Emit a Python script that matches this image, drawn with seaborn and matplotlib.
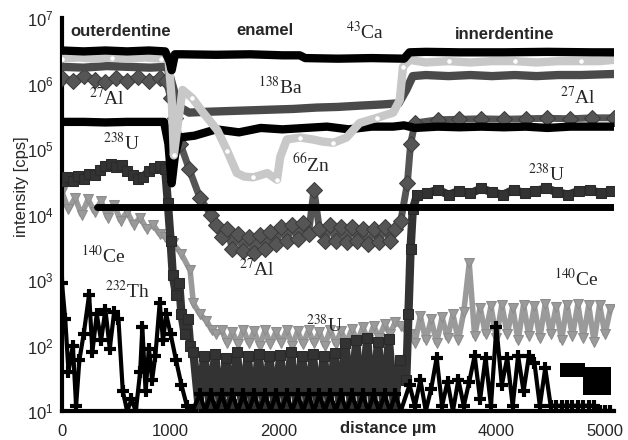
import numpy as np
import pandas as pd
import seaborn as sns
import matplotlib.pyplot as plt
from matplotlib.ticker import LogLocator, MultipleLocator, FixedLocator, FixedFormatter, NullFormatter

sns.set_style("white")
plt.rcParams["font.family"] = ["Liberation Sans", "DejaVu Sans"]
plt.rcParams["mathtext.fontset"] = "stix"

# ---------------- DATA (distance in um, intensity in cps) ----------------

# 43Ca
ca_x = [0, 200, 400, 600, 800, 950, 990, 1010, 1040, 1100, 1420, 1730, 2030, 2190, 2240,
        2540, 2850, 3150, 3200, 3350, 3660, 4070, 4470, 4880, 5080]
ca_y = [3.2e6, 3.1e6, 3.2e6, 3.1e6, 3.2e6, 3.1e6, 2.2e6, 1.6e6, 2.8e6, 2.8e6, 2.75e6, 2.8e6, 2.7e6, 2.7e6, 2.45e6,
        2.4e6, 2.45e6, 2.4e6, 3.0e6, 3.05e6, 3.0e6, 3.0e6, 3.05e6, 3.0e6, 3.0e6]

# 66Zn
zn_x = [0, 150, 300, 460, 610, 760, 910, 980, 1010, 1030, 1060, 1110, 1200, 1300, 1430, 1520, 1610,
        1680, 1760, 1830, 1890, 1980, 2010, 2070, 2190, 2310, 2400, 2500, 2620, 2740, 2900, 3050,
        3110, 3140, 3200, 3350, 3560, 3760, 3960, 4170, 4370, 4570, 4780, 4950, 5080]
zn_y = [2.4e6, 2.5e6, 2.4e6, 2.5e6, 2.4e6, 2.5e6, 2.4e6, 2.4e6, 6e5, 8e4, 2e5, 8e5, 6e5, 3.6e5, 1.95e5, 9.5e4, 4.3e4,
        3.8e4, 3.7e4, 4.0e4, 4.3e4, 3.4e4, 7.6e4, 1.4e5, 1.5e5, 1.4e5, 1.3e5, 1.25e5, 1.5e5, 2.5e5, 3.0e5, 3.6e5,
        5.6e5, 1.8e6, 2.3e6, 2.1e6, 2.2e6, 2.1e6, 2.2e6, 2.2e6, 2.1e6, 2.2e6, 2.2e6, 2.2e6, 2.3e6]

# 138Ba
ba_x = [0, 200, 410, 610, 810, 970, 1020, 1070, 1170, 1320, 1520, 1730, 1930, 2130, 2340,
        2540, 2740, 2950, 3100, 3170, 3230, 3350, 3560, 3760, 3960, 4170, 4370, 4570, 4780, 5080]
ba_y = [1.8e6, 1.75e6, 1.85e6, 1.8e6, 1.75e6, 1.8e6, 9e5, 4.5e5, 3.6e5, 3.7e5, 3.8e5, 3.9e5, 4.0e5, 4.1e5, 4.3e5,
        4.4e5, 4.6e5, 4.8e5, 5.0e5, 8e5, 1.3e6, 1.35e6, 1.3e6, 1.35e6, 1.3e6, 1.35e6, 1.3e6, 1.35e6, 1.35e6, 1.4e6]

# 27Al
al_x = [0, 100, 200, 300, 400, 500, 600, 700, 800, 900, 960, 1000, 1040, 1090, 1170, 1270, 1370] + \
       list(range(1420, 3121, 50)) + \
       [3180, 3210, 3250, 3460, 3660, 3860, 4070, 4270, 4470, 4680, 4880, 5080]
al_y = [1.2e6, 1.1e6, 1.3e6, 1.15e6, 1.05e6, 1.2e6, 1.1e6, 1.25e6, 1.1e6, 1.2e6, 1.1e6, 6e5, 3e5, 1.2e5,
        5e4, 1.8e4, 1.0e4,
        7e3, 4.5e3, 6e3, 3e3, 5e3, 2.8e3, 4.5e3, 2.6e3, 4.8e3, 3e3, 5.5e3, 3.5e3, 6.5e3, 4e3, 7e3,
        4.2e3, 7.5e3, 5e3, 2.4e4, 6e3, 4e3, 7e3, 4e3, 6.5e3, 3.8e3, 6.5e3, 4e3, 6e3, 3.5e3, 6e3,
        3.8e3, 6.5e3, 4e3, 6e3, 8e3,
        3e4, 1.2e5, 2.5e5, 2.8e5, 2.85e5, 2.9e5, 2.85e5, 2.9e5, 2.95e5, 2.9e5, 3.0e5, 3.0e5]

# unlabelled black trace (~2e5 cps)
bk_x = [0, 200, 400, 600, 800, 940, 980, 1010, 1040, 1080, 1220, 1420, 1630, 1830, 2030, 2240,
        2440, 2640, 2850, 3050, 3150, 3250, 3460, 3660, 3860, 4070, 4270, 4470, 4680, 4880, 5080]
bk_y = [2.6e5, 2.6e5, 2.55e5, 2.6e5, 2.6e5, 2.6e5, 1.2e5, 3e4, 8e4, 1.5e5, 1.6e5, 2.0e5, 1.8e5, 2.1e5, 2.0e5, 2.1e5,
        2.2e5, 2.0e5, 2.2e5, 2.2e5, 2.3e5, 2.1e5, 2.2e5, 2.15e5, 2.2e5, 2.15e5, 2.2e5, 2.1e5, 2.2e5, 2.2e5, 2.2e5]

# horizontal reference level
ref_x = [320, 5080]
ref_y = [1.3e4, 1.3e4]

# 238U
u_x = list(range(0, 951, 50)) + [975, 1000, 1020, 1050, 1080, 1100, 1130, 1160, 1180] + \
      list(range(1210, 3111, 50)) + [3170, 3190, 3210, 3230, 3270] + list(range(3360, 5061, 100))
u_y = [3.2e4, 3.8e4, 3.3e4, 3.9e4, 3.5e4, 4.2e4, 4.0e4, 4.8e4, 5.5e4, 6.0e4, 5.3e4, 5.8e4, 4.6e4, 4.0e4, 3.5e4,
       3.8e4, 4.6e4, 5.2e4, 5.6e4, 5.0e4,
       1.5e4, 4e3, 1.2e3, 600, 900, 300, 150, 250, 100,
       80, 11, 70, 12, 75, 10, 65, 13, 80, 11, 70, 10, 75, 12, 68, 11, 72, 10, 80, 12,
       70, 11, 75, 10, 70, 12, 78, 11, 110, 12, 120, 10, 130, 11, 115, 12, 125, 10, 60,
       30, 300, 3e3, 1.2e4, 2.0e4,
       2.1e4, 2.4e4, 2.0e4, 2.3e4, 2.1e4, 2.5e4, 2.2e4, 2.0e4, 2.4e4, 2.1e4, 2.3e4, 2.5e4,
       2.2e4, 2.0e4, 2.3e4, 2.4e4, 2.1e4, 2.3e4]

# 140Ce
ce_x = [0, 60, 120, 180, 240, 300, 360, 420, 480, 540, 600, 660, 720, 780, 840, 900, 950,
        1020, 1100, 1180, 1210, 1270, 1330, 1380] + list(range(1420, 3121, 50)) + list(range(3200, 5051, 50))
ce_y = [2.2e4, 1.2e4, 1.8e4, 1.0e4, 1.7e4, 1.1e4, 1.6e4, 9e3, 1.4e4, 8e3, 1.1e4, 7e3, 9e3, 6e3, 7e3, 5e3, 4.5e3,
        3.7e3, 2.5e3, 1.4e3, 440, 300, 240, 170,
        150, 170, 110, 160, 105, 175, 110, 165, 100, 170, 105, 160, 110, 175, 100, 165, 105, 170,
        110, 160, 100, 175, 105, 165, 110, 180, 115, 190, 120, 200, 130, 210, 150, 230, 200,
        150, 110, 280, 120, 250, 110, 270, 130, 300, 120, 330, 1800, 140, 380, 150, 400, 130, 420, 150,
        380, 120, 420, 140, 400, 130, 430, 150, 390, 120, 420, 140, 430, 130, 410, 115, 420, 150, 360]

# 232Th
th_x = [0, 30, 60, 100, 130, 160, 200, 250, 280, 320, 360, 400, 440, 480, 520, 560, 600, 640, 680,
        720, 740, 770, 800, 830, 860, 900, 930, 960, 1000, 1050, 1100, 1150, 1200] + \
       list(range(1270, 3121, 50)) + list(range(3200, 5051, 50))
th_y = [900, 250, 40, 100, 12, 60, 150, 600, 80, 300, 120, 350, 90, 320, 250, 20, 10, 15, 10,
        40, 190, 20, 90, 30, 70, 450, 120, 300, 150, 60, 25, 12, 10,
        18, 10, 18, 10, 18, 10, 18, 10, 18, 10, 18, 10, 18, 10, 18, 10, 18, 10, 18,
        10, 18, 10, 18, 10, 18, 10, 18, 10, 18, 10, 18, 10, 18, 10, 18, 10, 18, 10,
        25, 12, 30, 10, 22, 65, 12, 28, 10, 30, 12, 28, 70, 15, 65, 12, 190, 25, 65, 12,
        70, 20, 70, 55, 12, 45, 12, 12, 12, 12, 12, 12, 12, 12, 12, 10, 10, 10]

# two dark blocks at the right end
blk1_x = [4650, 4750]
blk1_y = [43, 43]
blk2_x = [4930]
blk2_y = [29]

# isotope labels: (x, y, mass, element)
iso_labels = [
    (2790, 6.2e6, "43", "Ca"),
    (2010, 8.9e5, "138", "Ba"),
    (415, 6.0e5, "27", "Al"),
    (552, 1.23e5, "238", "U"),
    (2290, 5.8e4, "66", "Zn"),
    (4750, 6.2e5, "27", "Al"),
    (4465, 4.2e4, "238", "U"),
    (377, 2.4e3, "140", "Ce"),
    (600, 680, "232", "Th"),
    (1795, 1.45e3, "27", "Al"),
    (2420, 205, "238", "U"),
    (4740, 1.07e3, "140", "Ce"),
]

# ---------------- PLOT ----------------

fig = plt.figure(figsize=(6.28, 4.4), dpi=100)
ax = fig.add_axes([0.0987, 0.0659, 0.879, 0.893])
ax.set_yscale("log")

common = dict(ax=ax, estimator=None, sort=False, legend=False)

sns.lineplot(x=ce_x, y=ce_y, color="#9a9a9a", lw=4, marker="v", markersize=7,
             markerfacecolor="#9a9a9a", markeredgecolor="#8c8c8c", zorder=2, **common)
sns.lineplot(x=u_x, y=u_y, color="#333333", lw=6, marker="s", markersize=7,
             markerfacecolor="#333333", markeredgecolor="#2a2a2a", zorder=3, **common)
sns.lineplot(x=th_x, y=th_y, color="black", lw=3, marker="+", markersize=9,
             markeredgewidth=3, markeredgecolor="black", zorder=4, **common)
sns.scatterplot(x=blk1_x, y=blk1_y, ax=ax, marker="s", s=110, color="black", linewidth=0, zorder=4)
sns.scatterplot(x=blk2_x, y=blk2_y, ax=ax, marker="s", s=380, color="black", linewidth=0, zorder=4)
sns.lineplot(x=al_x, y=al_y, color="#555555", lw=5, marker="D", markersize=8,
             markerfacecolor="#555555", markeredgecolor="#3c3c3c", zorder=5, **common)
sns.lineplot(x=bk_x, y=bk_y, color="black", lw=6, zorder=5, **common)
sns.lineplot(x=ba_x, y=ba_y, color="#4a4a4a", lw=6, zorder=6, **common)
sns.lineplot(x=zn_x, y=zn_y, color="#c8c8c8", lw=6, marker="o", markersize=2.5,
             markerfacecolor="white", markeredgecolor="white", markevery=3, zorder=7, **common)
sns.lineplot(x=ca_x, y=ca_y, color="black", lw=6, zorder=8, **common)
sns.lineplot(x=ref_x, y=ref_y, color="black", lw=5, zorder=9, **common)

for x, y, m, el in iso_labels:
    ax.text(x, y, rf"$^{{{m}}}$" + el, family="Liberation Serif", fontsize=14,
            ha="center", va="center", zorder=10)

ax.text(73, 6.3e6, "outerdentine", fontsize=12, fontweight="bold", ha="left", va="center")
ax.text(1870, 6.5e6, "enamel", fontsize=12, fontweight="bold", ha="center", va="center")
ax.text(4080, 5.6e6, "innerdentine", fontsize=12, fontweight="bold", ha="center", va="center")

ax.set_xlim(0, 5083)
ax.set_ylim(10, 1e7)

ax.xaxis.set_major_locator(FixedLocator([0, 1000, 2000, 3000, 4000, 5000]))
ax.xaxis.set_major_formatter(FixedFormatter(["0", "1000", "2000", "", "4000", "5000"]))
ax.xaxis.set_minor_locator(MultipleLocator(500))
ax.xaxis.set_minor_formatter(NullFormatter())
ax.yaxis.set_major_locator(LogLocator(base=10, numticks=10))
ax.yaxis.set_minor_locator(LogLocator(base=10, subs=np.arange(2, 10), numticks=20))
ax.yaxis.set_minor_formatter(NullFormatter())

ax.tick_params(axis="both", which="major", labelsize=12, width=2.5, length=8, pad=1)
ax.tick_params(axis="y", which="major", direction="inout", length=10)
ax.tick_params(axis="y", which="minor", direction="inout", width=2, length=6)
ax.tick_params(axis="x", which="minor", direction="out", width=2, length=5)
ax.tick_params(axis="x", which="major", direction="out")

for side in ["top", "right"]:
    ax.spines[side].set_visible(False)
for side in ["left", "bottom"]:
    ax.spines[side].set_linewidth(3)
    ax.spines[side].set_color("black")

ax.set_xlabel("distance µm", fontsize=12, fontweight="bold")
ax.xaxis.set_label_coords(0.59, -0.025)
ax.set_ylabel("intensity [cps]", fontsize=12)
ax.yaxis.set_label_coords(-0.06, 0.57)

fig.savefig("out.png", dpi=100)
